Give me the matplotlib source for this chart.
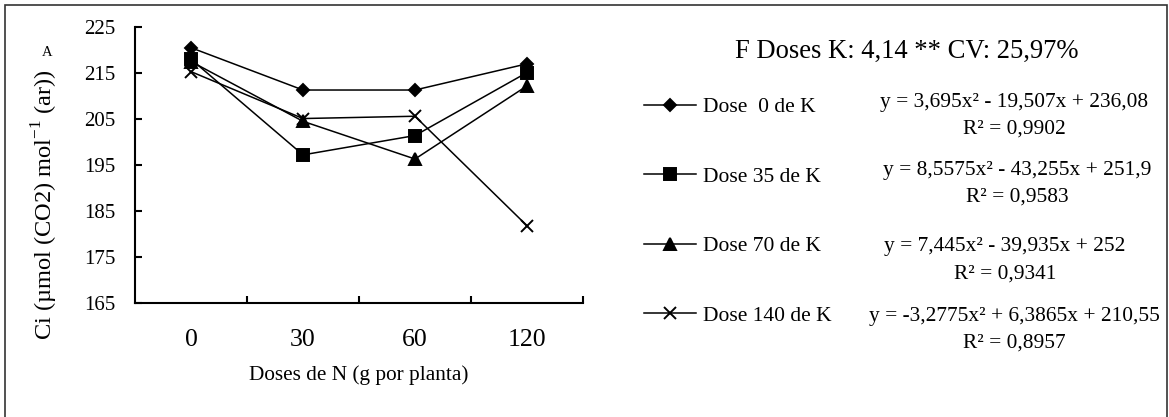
import matplotlib
matplotlib.use('Agg')
import matplotlib.pyplot as plt
from matplotlib.patches import Rectangle

plt.rcParams['font.family'] = ['Liberation Serif', 'DejaVu Serif']
plt.rcParams['mathtext.fontset'] = 'custom'
plt.rcParams['mathtext.rm'] = 'Liberation Serif'

# doses de N (categorias do eixo x)
doses_n = ['0', '30', '60', '120']

# Ci por dose de K
ci_k0 = [220.5, 211.3, 211.3, 217.0]
ci_k35 = [218.0, 197.2, 201.4, 215.1]
ci_k70 = [217.5, 204.5, 196.3, 212.2]
ci_k140 = [215.3, 205.1, 205.6, 181.8]

labels = ['Dose  0 de K', 'Dose 35 de K', 'Dose 70 de K', 'Dose 140 de K']
equations = [
    'y = 3,695x² - 19,507x + 236,08',
    'y = 8,5575x² - 43,255x + 251,9',
    'y = 7,445x² - 39,935x + 252',
    'y = -3,2775x² + 6,3865x + 210,55',
]
r2_values = ['0,9902', '0,9583', '0,9341', '0,8957']

W, H = 1169, 417
fig = plt.figure(figsize=(W / 100, H / 100), dpi=100)

# moldura externa do grafico
fig.patches.append(Rectangle((5 / W, -0.02), (1167 - 5) / W, 1 - 5 / H + 0.02,
                             transform=fig.transFigure, fill=False,
                             edgecolor='#333333', linewidth=1.2))

ax = fig.add_axes([135 / W, 1 - 303 / H, (583 - 135) / W, (303 - 27) / H])

x = list(range(len(doses_n)))
series = [ci_k0, ci_k35, ci_k70, ci_k140]
markers = [('D', 6.5), ('s', 8.5), ('^', 8.5), ('x', 8.5)]
handles = []
for vals, (m, ms) in zip(series, markers):
    h, = ax.plot(x, vals, color='black', linewidth=1.1, marker=m,
                 markersize=ms, markeredgewidth=1.4, markerfacecolor='black')
    handles.append(h)

ax.set_xlim(-0.5, len(doses_n) - 0.5)
ax.set_ylim(165, 225)
ax.set_yticks(range(165, 226, 10))
ax.set_xticks(x)
ax.set_xticklabels(doses_n)
ax.set_xticks([i + 0.5 for i in x], minor=True)

for side in ['top', 'right']:
    ax.spines[side].set_visible(False)
for side in ['left', 'bottom']:
    ax.spines[side].set_linewidth(1.5)

ax.tick_params(axis='x', which='major', length=0, labelsize=18.5, pad=19)
ax.tick_params(axis='x', which='minor', direction='in', length=5, width=1.5)
ax.tick_params(axis='y', direction='in', length=5, width=1.5, labelsize=15, pad=14)

ax.set_xlabel('Doses de N (g por planta)', fontsize=15.3, labelpad=10)
fig.text(45 / W, 1 - 205 / H, r'Ci (µmol (CO2) mol$^{-1}$ (ar))', rotation=90,
         ha='center', va='center', fontsize=17.6)
fig.text(47 / W, 1 - 52 / H, 'A', ha='center', va='center', fontsize=10.5)

fig.text(907 / W, 1 - 51 / H, 'F Doses K: 4,14 ** CV: 25,97%', ha='center',
         va='center', fontsize=19.2)

fig.legend(handles, labels, loc='upper left', bbox_to_anchor=(644 / W, 1 - 97 / H),
           frameon=False, fontsize=15.5, labelspacing=2.3, handlelength=2.4,
           handletextpad=0.35, borderpad=0, borderaxespad=0)

eq_x = [1014, 1017, 1005, 1014]
eq_y = [102, 170, 247, 316]
for eq, r2, ex, ey in zip(equations, r2_values, eq_x, eq_y):
    fig.text(ex / W, 1 - ey / H, eq, ha='center', va='center', fontsize=15.4)
    fig.text(ex / W, 1 - (ey + 27) / H, 'R² = ' + r2, ha='center', va='center',
             fontsize=15.4)

fig.savefig('out.png', dpi=100)
